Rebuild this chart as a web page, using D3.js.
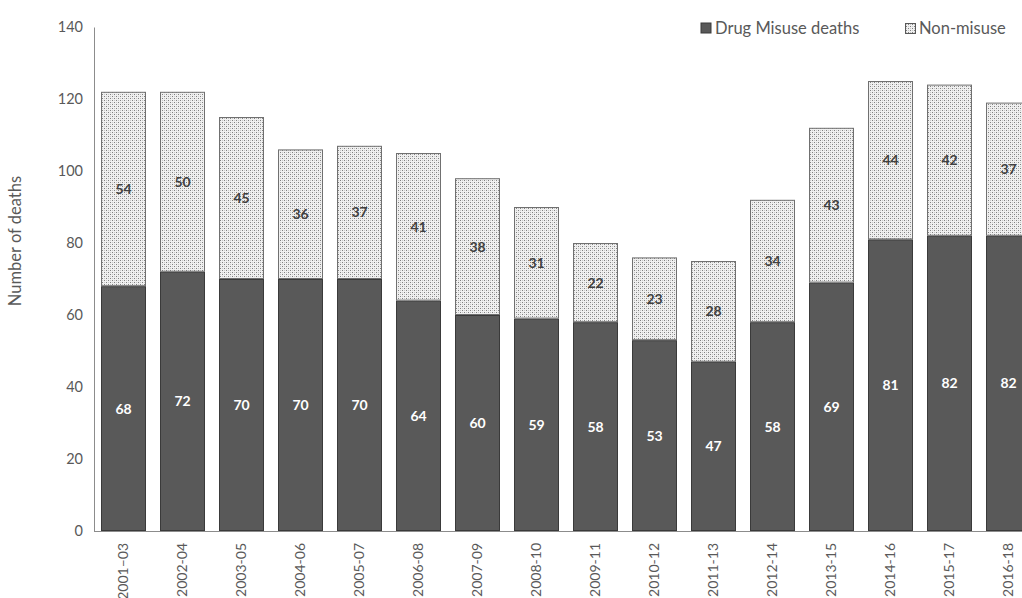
<!DOCTYPE html>
<html><head><meta charset="utf-8">
<script src="https://cdn.jsdelivr.net/npm/d3@7"></script>
<style>body{margin:0;background:#fff;overflow:hidden}svg{display:block;font-family:Lato,"Open Sans",sans-serif}</style>
</head><body>
<script>
const categories = ["2001\u201303","2002-04","2003-05","2004-06","2005-07","2006-08","2007-09","2008-10","2009-11","2010-12","2011-13","2012-14","2013-15","2014-16","2015-17","2016-18"];
const misuse = [68,72,70,70,70,64,60,59,58,53,47,58,69,81,82,82];
const nonMisuse = [54,50,45,36,37,41,38,31,22,23,28,34,43,44,42,37];
const yTicks = [0,20,40,60,80,100,120,140];
const seriesNames = ["Drug Misuse deaths","Non-misuse"];

const W=1022,H=598;
const svg=d3.select("body").append("svg").attr("width",W).attr("height",H);
const defs=svg.append("defs");
const pat=defs.append("pattern").attr("id","dots").attr("patternUnits","userSpaceOnUse").attr("width",4).attr("height",4);
pat.append("rect").attr("width",4).attr("height",4).attr("fill","#f0f0f0");
pat.append("rect").attr("x",0).attr("y",0).attr("width",1).attr("height",1).attr("fill","#808080");
pat.append("rect").attr("x",2).attr("y",2).attr("width",1).attr("height",1).attr("fill","#808080");
pat.append("rect").attr("x",2).attr("y",0).attr("width",1).attr("height",1).attr("fill","#c8c8c8");
pat.append("rect").attr("x",0).attr("y",2).attr("width",1).attr("height",1).attr("fill","#c8c8c8");

const x=d3.scaleBand().domain(categories).range([94,94+16*59]).paddingInner(14/59).paddingOuter(7/59);
const y=d3.scaleLinear().domain([0,140]).range([531,27]);

// axes
const ya=svg.append("g").attr("transform","translate(94,0)").call(d3.axisLeft(y).tickValues(yTicks).tickSize(0).tickPadding(11));
ya.select(".domain").attr("stroke","#8c8c8c");
ya.selectAll("text").attr("fill","#595959").style("font-size","14.5px").style("font-family","Lato,'Open Sans',sans-serif");

// bars
const g=svg.append("g");
categories.forEach((c,i)=>{
  const x0=x(c), bw=x.bandwidth();
  g.append("rect").attr("x",x0+0.5).attr("y",y(misuse[i])+0.5).attr("width",bw-1).attr("height",y(0)-y(misuse[i])-1)
    .attr("fill","#595959").attr("stroke","#3a3a3a").attr("stroke-width",1);
  const top=misuse[i]+nonMisuse[i];
  g.append("rect").attr("x",x0+0.5).attr("y",y(top)+0.5).attr("width",bw-1).attr("height",y(misuse[i])-y(top)-1)
    .attr("fill","url(#dots)").attr("stroke","#707070").attr("stroke-width",1);
  g.append("text").attr("x",x0+bw/2).attr("y",y(misuse[i]/2)).attr("dy","0.35em").attr("text-anchor","middle")
    .attr("fill","#fff").style("font-weight","bold").style("font-size","14px").text(misuse[i]);
  g.append("text").attr("x",x0+bw/2).attr("y",y(misuse[i]+nonMisuse[i]/2)).attr("dy","0.35em").attr("text-anchor","middle")
    .attr("fill","#404040").style("font-weight","bold").style("font-size","14px").text(nonMisuse[i]);
});

const xa=svg.append("g").attr("transform","translate(0,531)").call(d3.axisBottom(x).tickSize(0));
xa.select(".domain").attr("stroke","#8c8c8c").attr("d","M94,0.5H1040");
xa.selectAll("text").attr("fill","#595959").style("font-size","14px").style("font-family","Lato,'Open Sans',sans-serif")
  .attr("transform","rotate(-90)").attr("text-anchor","end").attr("x",-12).attr("y",0).attr("dy","0.35em");

// y label
svg.append("text").attr("transform","translate(21,241) rotate(-90)").attr("text-anchor","middle")
  .attr("fill","#595959").style("font-size","16.5px").text("Number of deaths");

// legend
const lg=svg.append("g");
lg.append("rect").attr("x",701).attr("y",23).attr("width",10).attr("height",10).attr("fill","#595959").attr("stroke","#3a3a3a");
lg.append("text").attr("x",715).attr("y",28).attr("dy","0.35em").attr("fill","#595959").style("font-size","16.5px").text(seriesNames[0]);
lg.append("rect").attr("x",905.5).attr("y",23.5).attr("width",10).attr("height",10).attr("fill","url(#dots)").attr("stroke","#595959");
lg.append("text").attr("x",919).attr("y",28).attr("dy","0.35em").attr("fill","#595959").style("font-size","16.5px").text(seriesNames[1]);
</script>
</body></html>
